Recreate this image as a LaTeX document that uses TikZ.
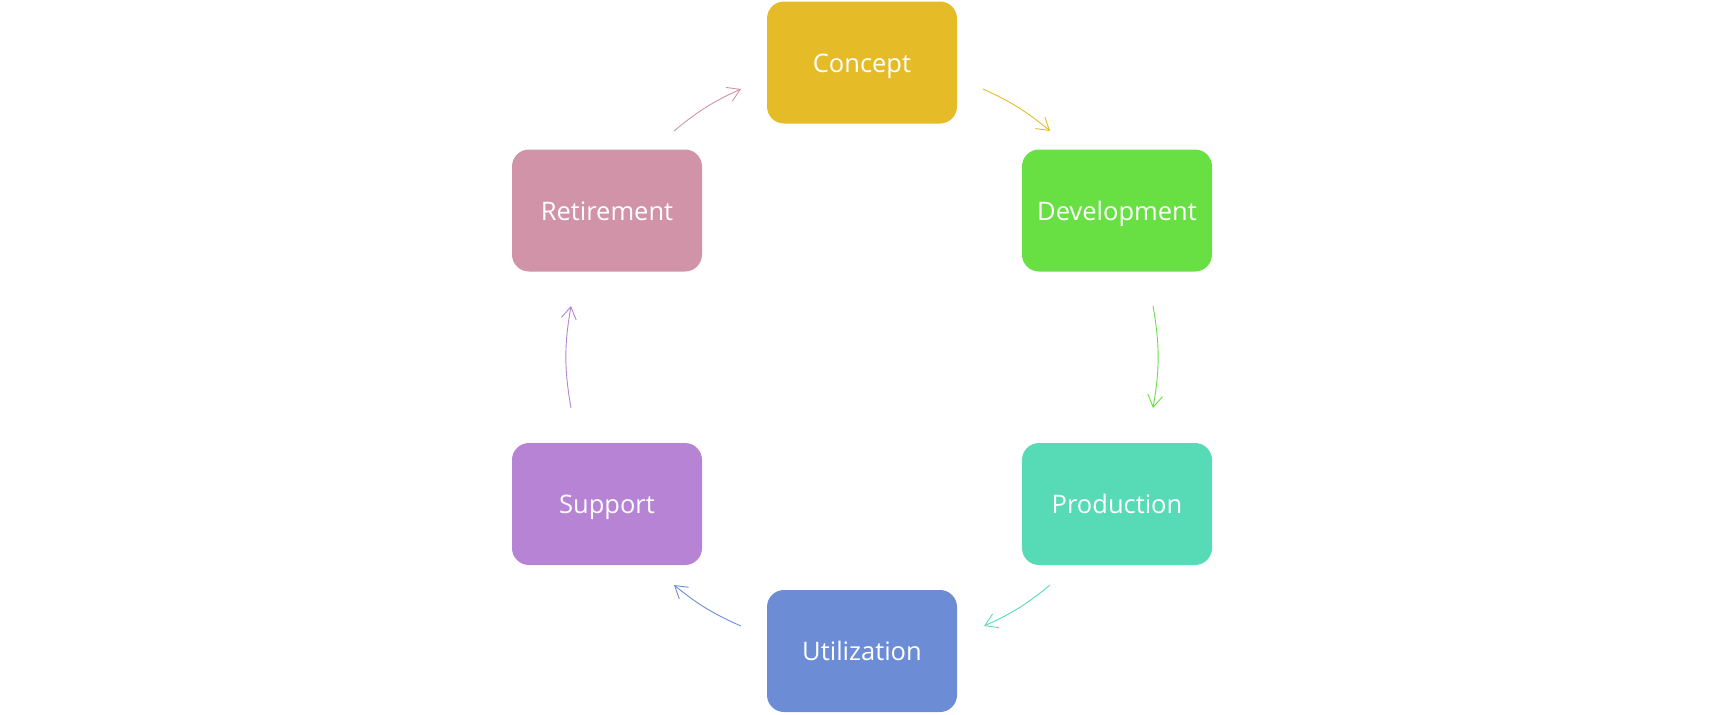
\documentclass[tikz,border=0pt]{standalone}
\usepackage{fontspec}
\setmainfont{Open Sans}
\usetikzlibrary{arrows.meta}
\definecolor{cConcept}{HTML}{E5BC28}
\definecolor{cDev}{HTML}{68E044}
\definecolor{cProd}{HTML}{57DBB7}
\definecolor{cUtil}{HTML}{6C8DD5}
\definecolor{cSupp}{HTML}{B783D4}
\definecolor{cRet}{HTML}{D093A8}
\begin{document}
\begin{tikzpicture}[x=1pt,y=-1pt,
  stage/.style={rounded corners=17pt, minimum width=190pt, minimum height=122pt,
    inner sep=0pt, text=white, text height=19pt, text depth=0pt,
    font=\fontsize{25.5}{30}\selectfont},
  link/.style={line width=0.9pt, -{Straight Barb[length=12pt,width=15pt,line width=0.9pt]}}]
\useasboundingbox (0,0) rectangle (1725,715);
\node[stage, fill=cConcept] (concept) at (862,62.5) {Concept};
\node[stage, fill=cDev] (dev) at (1117,210.5) {Development};
\node[stage, fill=cProd] (prod) at (1117,504) {Production};
\node[stage, fill=cUtil] (util) at (862,651) {Utilization};
\node[stage, fill=cSupp] (supp) at (607,504) {Support};
\node[stage, fill=cRet] (ret) at (607,210.5) {Retirement};
\coordinate (a1) at (983,89);  \coordinate (b1) at (1050,131);
\coordinate (a2) at (1153,306); \coordinate (b2) at (1153,408);
\coordinate (a3) at (1050,585); \coordinate (b3) at (984,626);
\coordinate (a4) at (741,626); \coordinate (b4) at (674,585);
\coordinate (a5) at (571,408); \coordinate (b5) at (571,306);
\coordinate (a6) at (674,131); \coordinate (b6) at (741,89);
\draw[link, cConcept] (a1) to[bend left=7.7] (b1);
\draw[link, cDev] (a2) to[bend left=9.9] (b2);
\draw[link, cProd] (a3) to[bend left=7.7] (b3);
\draw[link, cUtil] (a4) to[bend left=7.7] (b4);
\draw[link, cSupp] (a5) to[bend left=9.9] (b5);
\draw[link, cRet] (a6) to[bend left=7.7] (b6);
\end{tikzpicture}
\end{document}
